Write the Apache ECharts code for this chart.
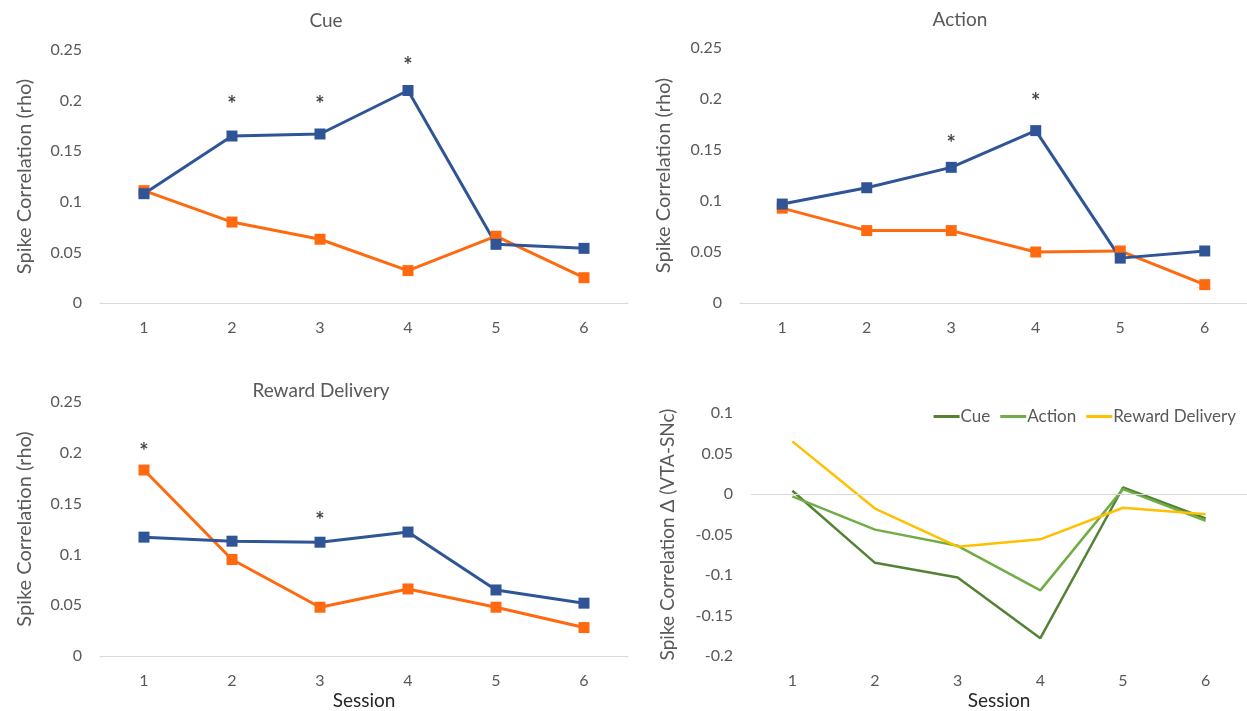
<!DOCTYPE html>
<html>
<head>
<meta charset="utf-8">
<script src="https://cdn.jsdelivr.net/npm/echarts@6/dist/echarts.min.js"></script>
<style>
html,body{margin:0;padding:0;background:#fff;}
#c{width:1247px;height:711px;}
</style>
</head>
<body>
<div id="c"></div>
<script>
const sessions = ['1','2','3','4','5','6'];

const cueVTA   = [0.108, 0.165, 0.167, 0.210, 0.058, 0.054];
const cueSNc   = [0.111, 0.080, 0.063, 0.032, 0.066, 0.025];
const cueSig   = [null, 0.200, 0.200, 0.238, null, null];

const actVTA   = [0.097, 0.113, 0.133, 0.169, 0.044, 0.051];
const actSNc   = [0.093, 0.071, 0.071, 0.050, 0.051, 0.018];
const actSig   = [null, null, 0.160, 0.201, null, null];

const rewVTA   = [0.117, 0.113, 0.112, 0.122, 0.065, 0.052];
const rewSNc   = [0.183, 0.095, 0.048, 0.066, 0.048, 0.028];
const rewSig   = [0.205, null, 0.137, null, null, null];

const deltaCue = [0.004, -0.085, -0.103, -0.178, 0.008, -0.030];
const deltaAct = [-0.003, -0.044, -0.064, -0.119, 0.006, -0.033];
const deltaRew = [0.065, -0.018, -0.065, -0.056, -0.017, -0.025];

const FONT = 'Lato';
const GREY = '#595959';
const BLUE = '#2F5597';
const ORANGE = '#FF6A10';

function xAx(gi, withName) {
  return {
    type: 'category', gridIndex: gi, data: sessions, boundaryGap: true,
    axisLine: { show: gi !== 3, lineStyle: { color: '#d9d9d9', width: 1 } },
    axisTick: { show: false },
    axisLabel: { color: GREY, fontSize: 16, fontFamily: FONT, margin: 17 },
    name: withName ? 'Session' : '', nameLocation: 'middle', nameGap: 35,
    nameTextStyle: { color: '#262626', fontSize: 19, fontFamily: FONT }
  };
}
function yAx(gi, min, max, name, nameGap, nameSize) {
  return {
    type: 'value', gridIndex: gi, min: min, max: max, interval: 0.05,
    splitLine: { show: false }, axisLine: { show: false }, axisTick: { show: false },
    axisLabel: { color: GREY, fontSize: 16, fontFamily: FONT, margin: 18,
      formatter: v => String(Math.round(v * 100) / 100) },
    name: name, nameLocation: 'middle', nameGap: nameGap,
    nameTextStyle: { color: GREY, fontSize: nameSize, fontFamily: FONT }
  };
}
function pair(gi, vta, snc, sig) {
  const base = { type: 'line', xAxisIndex: gi, yAxisIndex: gi, symbol: 'rect', symbolSize: 11,
    animation: false, z: 3 };
  return [
    Object.assign({}, base, { name: 'SNc', data: snc, itemStyle: { color: ORANGE }, lineStyle: { width: 3, color: ORANGE } }),
    Object.assign({}, base, { name: 'VTA', data: vta, itemStyle: { color: BLUE }, lineStyle: { width: 3, color: BLUE } }),
    { type: 'scatter', xAxisIndex: gi, yAxisIndex: gi, data: sig, symbolSize: 1,
      itemStyle: { color: 'rgba(0,0,0,0)' }, animation: false, silent: true,
      label: { show: true, position: 'inside', formatter: '*', color: '#111', fontSize: 22,
        fontWeight: 'bold', fontFamily: FONT, offset: [0, 4] } }
  ];
}

const titleStyle = { color: GREY, fontSize: 19, fontWeight: 'normal', fontFamily: FONT };
const chart = echarts.init(document.getElementById('c'));
chart.setOption({
  backgroundColor: '#fff',
  animation: false,
  title: [
    { text: 'Cue', left: 321, top: 6, textAlign: 'center', textStyle: titleStyle },
    { text: 'Action', left: 955, top: 5, textAlign: 'center', textStyle: titleStyle },
    { text: 'Reward Delivery', left: 316, top: 376, textAlign: 'center', textStyle: titleStyle }
  ],
  legend: {
    right: 6, top: 403, itemWidth: 26, itemHeight: 3, itemGap: 10,
    data: ['Cue', 'Action', 'Reward Delivery'],
    textStyle: { color: GREY, fontSize: 17, fontFamily: FONT, padding: [0, 0, 0, -4] },
    icon: 'rect'
  },
  grid: [
    { left: 100, top: 50, width: 528, height: 253 },
    { left: 740, top: 48, width: 514, height: 255 },
    { left: 100, top: 402, width: 528, height: 255 },
    { left: 751, top: 413, width: 503, height: 245 }
  ],
  xAxis: [xAx(0, false), xAx(1, false), xAx(2, true), xAx(3, true)],
  yAxis: [
    yAx(0, 0, 0.25, 'Spike Correlation (rho)', 65, 20),
    yAx(1, 0, 0.25, 'Spike Correlation (rho)', 66, 20),
    yAx(2, 0, 0.25, 'Spike Correlation (rho)', 65, 20),
    yAx(3, -0.2, 0.1, 'Spike Correlation Δ (VTA-SNc)', 74, 19)
  ],
  series: [].concat(
    pair(0, cueVTA, cueSNc, cueSig),
    pair(1, actVTA, actSNc, actSig),
    pair(2, rewVTA, rewSNc, rewSig),
    [
      { name: 'Cue', type: 'line', xAxisIndex: 3, yAxisIndex: 3, data: deltaCue, symbol: 'none',
        lineStyle: { width: 2.5, color: '#548235' }, itemStyle: { color: '#548235' },
        markLine: { silent: true, symbol: 'none', label: { show: false },
          lineStyle: { color: '#d9d9d9', width: 1, type: 'solid' }, data: [{ yAxis: 0 }] } },
      { name: 'Action', type: 'line', xAxisIndex: 3, yAxisIndex: 3, data: deltaAct, symbol: 'none',
        lineStyle: { width: 2.5, color: '#70AD47' }, itemStyle: { color: '#70AD47' } },
      { name: 'Reward Delivery', type: 'line', xAxisIndex: 3, yAxisIndex: 3, data: deltaRew, symbol: 'none',
        lineStyle: { width: 2.5, color: '#FFC000' }, itemStyle: { color: '#FFC000' } }
    ]
  )
});
</script>
</body>
</html>
